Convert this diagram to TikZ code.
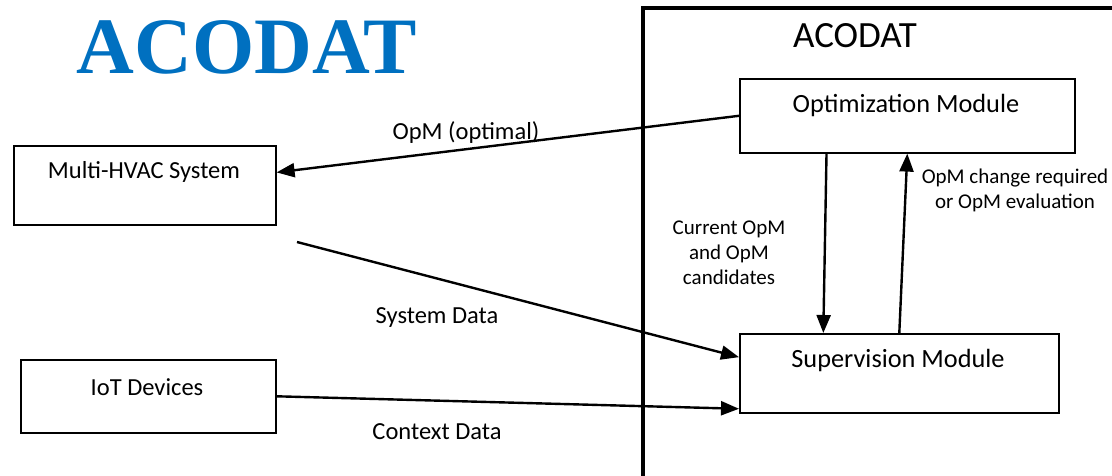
\documentclass[tikz,border=0pt]{standalone}
\usepackage{fontspec}
\setmainfont{Carlito}
\newfontfamily\titlefont{Liberation Serif}
\usetikzlibrary{arrows.meta,calc}
\definecolor{titleblue}{RGB}{0,112,192}
\begin{document}
\begin{tikzpicture}[x=1pt,y=-1pt,
  box/.style={draw,line width=1.6pt,inner sep=0pt,anchor=north west},
  lbl/.style={font=\fontsize{24.5}{28}\selectfont,inner sep=0pt},
  small/.style={font=\fontsize{21}{25}\selectfont,inner sep=0pt,align=center},
  conn/.style={line width=2.4pt,-{Triangle[length=18pt,width=14pt]}},
]
\useasboundingbox (0,0) rectangle (1112,476);
\clip (0,0) rectangle (1112,476);
% title
\node[inner sep=0pt,text=titleblue,font=\titlefont\bfseries\fontsize{80}{82}\selectfont] (title) at (247,47) {ACODAT};
% frame
\coordinate (fb) at (643,490);
\coordinate (ft) at (643,8);
\coordinate (fr) at (1130,8);
\draw[line width=4.5pt] (fb) -- (ft) -- (fr);
\node[inner sep=0pt,font=\fontsize{37}{40}\selectfont] (acodat) at (855,36) {ACODAT};
% boxes
\node[box,minimum width=335pt,minimum height=74pt] (opt) at (739,78) {};
\node[lbl,font=\fontsize{26.3}{28}\selectfont] (optt) at (906,105) {Optimization Module};
\node[box,minimum width=319pt,minimum height=79pt] (sup) at (739,333) {};
\node[lbl,font=\fontsize{26.3}{28}\selectfont] (supt) at (898,360) {Supervision Module};
\node[box,minimum width=262pt,minimum height=79pt] (hvac) at (13,145) {};
\node[lbl] (hvact) at (144,172) {Multi-HVAC System};
\node[box,minimum width=255pt,minimum height=73pt] (iot) at (20,359) {};
\node[lbl] (iott) at (147,387) {IoT Devices};
% connectors
\draw[conn] (opt.west) -- ($(hvac.north east)!0.34!(hvac.south east)$);
\coordinate (sysstart) at (297,242);
\draw[conn] (sysstart) -- ($(sup.north west)!0.30!(sup.south west)$);
\draw[conn] (iot.east) -- ($(sup.north west)!0.94!(sup.south west)$);
\draw[conn] ($(opt.south west)!0.26!(opt.south east)$) -- ($(sup.north west)!0.263!(sup.north east)$);
\draw[conn] (sup.north) -- (opt.south);
% labels
\node[lbl] (l1) at (466,133) {OpM (optimal)};
\node[lbl] (l2) at (437,318) {System Data};
\node[lbl] (l3) at (437,432) {Context Data};
\node[small] (l4) at (729,253) {Current OpM\\and OpM\\candidates};
\node[small] (l5) at (1015,190) {OpM change required\\or OpM evaluation};
\end{tikzpicture}
\end{document}
